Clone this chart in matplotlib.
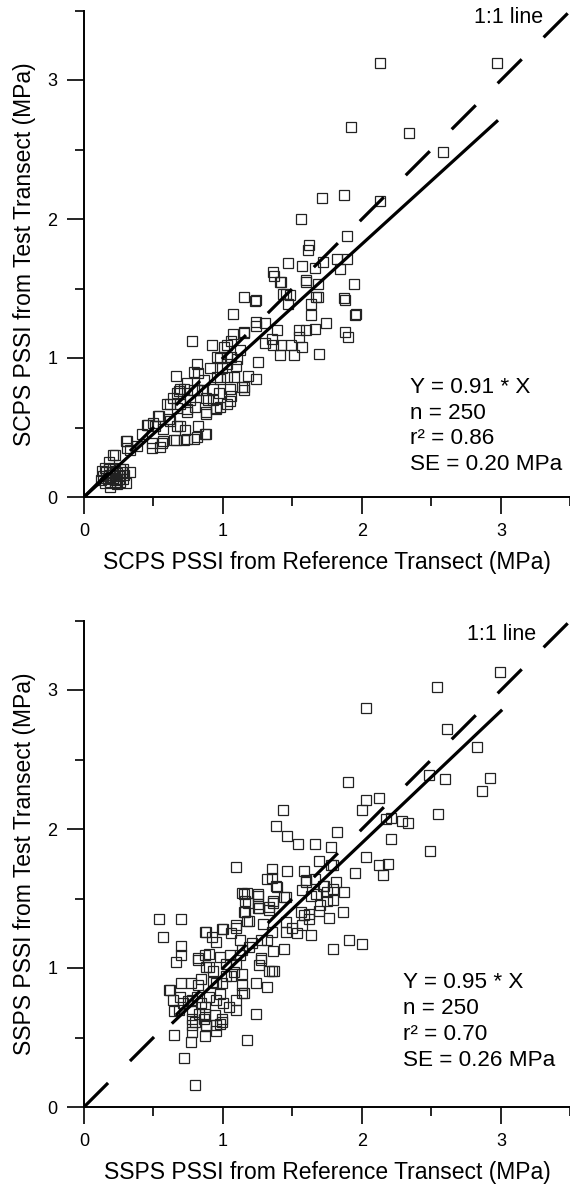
import matplotlib
matplotlib.use("Agg")
import matplotlib.pyplot as plt
import numpy as np

plt.rcParams['font.family'] = ['Liberation Sans', 'DejaVu Sans']
plt.rcParams['lines.scale_dashes'] = False

# ---- top panel: SCPS PSSI (reference vs test transect) ----
scps_pts = [
    (2.13, 3.12), (2.97, 3.12), (1.92, 2.66), (2.34, 2.62), (2.58, 2.48), (1.71, 2.15),
    (1.87, 2.17), (2.13, 2.13), (1.56, 2.00), (1.89, 1.88), (1.62, 1.81), (1.61, 1.78),
    (1.47, 1.68), (1.57, 1.66), (1.66, 1.65), (1.72, 1.69), (1.82, 1.71), (1.89, 1.71),
    (1.84, 1.64), (1.36, 1.62), (1.37, 1.59), (1.42, 1.55), (1.60, 1.56), (1.68, 1.53),
    (1.94, 1.53), (1.43, 1.46), (1.48, 1.45), (1.67, 1.44), (1.87, 1.43), (1.15, 1.44),
    (1.24, 1.42), (1.88, 1.42), (1.96, 1.32), (1.95, 1.31), (1.88, 1.19), (1.90, 1.15),
    (1.69, 1.03), (1.74, 1.25), (1.66, 1.21), (1.60, 1.20), (1.55, 1.20), (1.55, 1.15),
    (1.57, 1.08), (1.51, 1.02), (1.41, 1.02), (1.42, 1.09), (1.49, 1.09), (1.36, 1.09),
    (1.30, 1.11), (1.35, 1.14), (1.39, 1.20), (1.30, 1.25), (1.24, 1.26), (1.24, 1.23),
    (1.15, 1.18), (1.07, 1.17), (1.06, 1.12), (1.03, 1.09), (0.78, 1.12), (1.07, 1.32),
    (1.23, 1.41), (1.45, 1.46), (1.47, 1.39), (1.63, 1.39), (1.68, 1.44), (1.63, 1.31),
    (1.60, 1.55), (1.41, 1.55), (1.06, 1.01), (0.98, 1.00), (1.03, 0.96), (1.10, 0.99),
    (1.25, 0.97), (1.18, 0.87), (1.24, 0.85), (1.15, 0.79), (1.05, 0.78), (1.05, 0.69),
    (0.98, 0.65), (0.95, 0.64), (0.88, 0.61), (0.93, 0.70), (0.88, 0.71), (0.81, 0.96),
    (0.82, 0.89), (0.91, 0.93), (0.99, 0.93), (0.98, 0.85), (0.66, 0.87), (0.69, 0.78),
    (0.74, 0.82), (0.79, 0.77), (0.85, 0.77), (0.62, 0.67), (0.69, 0.67), (0.76, 0.70),
    (0.67, 0.64), (0.74, 0.61), (0.80, 0.65), (0.54, 0.58), (0.61, 0.56), (0.45, 0.52),
    (0.51, 0.51), (0.57, 0.49), (0.67, 0.51), (0.73, 0.48), (0.82, 0.51), (0.88, 0.45),
    (0.81, 0.43), (0.74, 0.42), (0.66, 0.41), (0.57, 0.40), (0.49, 0.39), (0.55, 0.36),
    (0.42, 0.45), (0.31, 0.40), (0.33, 0.34), (0.38, 0.37), (0.21, 0.30), (0.18, 0.25),
    (0.92, 1.09), (1.15, 1.19), (1.01, 1.08), (1.03, 1.01), (0.96, 1.01), (1.12, 1.06),
    (1.09, 0.94), (0.79, 0.90), (0.86, 0.84), (0.96, 0.86), (1.03, 0.86), (1.14, 0.79),
    (0.93, 0.78), (0.81, 0.77), (0.72, 0.78), (0.67, 0.75), (1.08, 0.86), (0.33, 0.18),
    (0.22, 0.30), (0.30, 0.40), (0.31, 0.35), (0.46, 0.52), (0.50, 0.53), (0.53, 0.58),
    (0.60, 0.67), (0.64, 0.71), (0.68, 0.76), (0.49, 0.35), (0.56, 0.39), (0.65, 0.41),
    (0.72, 0.41), (0.79, 0.42), (0.87, 0.45), (0.69, 0.51), (0.62, 0.55), (0.74, 0.63),
    (0.88, 0.60), (0.95, 0.63), (1.03, 0.67), (0.89, 0.70), (0.97, 0.75), (1.06, 0.73),
    (1.15, 0.77), (0.12, 0.12), (0.14, 0.15), (0.15, 0.10), (0.16, 0.18), (0.17, 0.13),
    (0.18, 0.20), (0.19, 0.11), (0.20, 0.16), (0.21, 0.14), (0.22, 0.19), (0.23, 0.12),
    (0.24, 0.17), (0.25, 0.15), (0.26, 0.11), (0.27, 0.18), (0.28, 0.13), (0.29, 0.16),
    (0.30, 0.10), (0.13, 0.19), (0.15, 0.21), (0.18, 0.16), (0.21, 0.21), (0.24, 0.09),
    (0.26, 0.20), (0.19, 0.07), (0.22, 0.10), (0.16, 0.14), (0.28, 0.20), (0.20, 0.18),
    (0.25, 0.13),
]

# ---- bottom panel: SSPS PSSI ----
ssps_pts = [
    (2.99, 3.13), (2.54, 3.02), (2.03, 2.87), (2.61, 2.72), (2.83, 2.59), (1.90, 2.34),
    (2.48, 2.39), (2.60, 2.36), (2.92, 2.37), (2.86, 2.27), (2.03, 2.21), (2.12, 2.22),
    (2.00, 2.14), (1.43, 2.14), (2.55, 2.11), (2.17, 2.07), (2.21, 2.08), (2.29, 2.06),
    (2.33, 2.04), (1.38, 2.02), (1.46, 1.95), (1.82, 1.98), (2.21, 1.93), (1.54, 1.89),
    (1.66, 1.89), (1.78, 1.87), (2.49, 1.84), (2.03, 1.80), (2.19, 1.75), (2.12, 1.74),
    (2.15, 1.67), (1.95, 1.68), (1.69, 1.77), (1.79, 1.74), (1.09, 1.73), (1.35, 1.71),
    (1.46, 1.70), (1.58, 1.70), (1.66, 1.64), (1.32, 1.64), (1.35, 1.65), (1.60, 1.62),
    (1.81, 1.62), (1.73, 1.59), (1.39, 1.58), (1.57, 1.56), (1.75, 1.55), (1.87, 1.55),
    (1.67, 1.53), (1.14, 1.54), (1.17, 1.54), (1.25, 1.52), (1.44, 1.51), (1.79, 1.49),
    (1.18, 1.47), (1.36, 1.47), (1.25, 1.43), (1.33, 1.44), (1.56, 1.40), (1.69, 1.41),
    (1.62, 1.35), (1.76, 1.36), (1.86, 1.40), (0.54, 1.35), (0.70, 1.35), (1.16, 1.40),
    (1.09, 1.31), (1.17, 1.34), (1.29, 1.32), (1.45, 1.33), (1.50, 1.29), (1.57, 1.31),
    (1.45, 1.26), (1.53, 1.25), (1.63, 1.24), (1.35, 1.26), (1.00, 1.28), (0.87, 1.26),
    (0.57, 1.22), (0.70, 1.16), (1.79, 1.14), (1.91, 1.20), (2.00, 1.17), (0.70, 1.09),
    (0.66, 1.04), (0.82, 1.07), (0.92, 1.22), (0.95, 1.19), (1.12, 1.20), (1.21, 1.18),
    (1.27, 1.20), (1.32, 1.20), (1.44, 1.14), (1.36, 1.12), (1.27, 1.07), (1.26, 1.02),
    (1.33, 0.98), (1.35, 0.98), (1.37, 0.98), (1.14, 1.13), (1.05, 1.09), (0.98, 1.08),
    (0.90, 1.10), (0.88, 1.01), (0.93, 0.98), (1.02, 1.03), (1.09, 1.03), (1.14, 0.96),
    (1.06, 0.94), (0.99, 0.89), (0.93, 0.90), (0.84, 0.92), (0.70, 0.89), (0.77, 0.89),
    (0.82, 0.88), (1.24, 0.89), (1.32, 0.86), (1.14, 0.88), (1.14, 0.82), (1.09, 0.77),
    (1.09, 0.70), (1.24, 0.67), (0.98, 0.81), (0.90, 0.79), (0.84, 0.75), (0.78, 0.77),
    (0.69, 0.79), (0.62, 0.84), (0.64, 0.77), (0.65, 0.69), (0.78, 0.69), (0.87, 0.67),
    (1.00, 0.75), (0.99, 0.61), (0.80, 0.61), (0.88, 0.59), (0.82, 1.06), (0.87, 1.09),
    (0.90, 1.01), (0.61, 0.84), (0.68, 0.70), (0.65, 0.52), (0.77, 0.47), (0.78, 0.54),
    (0.78, 0.59), (0.95, 0.59), (0.99, 0.63), (1.17, 0.48), (1.15, 0.82), (1.27, 1.06),
    (1.19, 1.15), (1.12, 1.09), (1.08, 0.97), (1.02, 0.94), (0.95, 0.89), (0.81, 0.79),
    (0.83, 0.67), (0.87, 0.72), (1.04, 0.72), (0.95, 0.77), (0.75, 0.76), (0.71, 0.75),
    (0.78, 0.63), (0.86, 0.63), (0.95, 0.55), (0.87, 0.51), (0.72, 0.35), (0.80, 0.16),
    (0.98, 0.60), (0.88, 0.58), (0.94, 0.66), (1.78, 1.74), (1.60, 1.63), (1.72, 1.59),
    (1.79, 1.57), (1.63, 1.52), (1.70, 1.45), (1.75, 1.48), (1.62, 1.39), (1.58, 1.38),
    (0.88, 1.26), (0.99, 1.28), (1.09, 1.29), (1.19, 1.34), (1.06, 1.25), (1.38, 1.59),
    (1.15, 1.53), (1.25, 1.53), (1.16, 1.48), (1.25, 1.46), (1.36, 1.48), (1.45, 1.51),
    (1.15, 1.40), (1.26, 1.43), (1.33, 1.42),
]

panels = [
    dict(pts=scps_pts, slope=0.91, fit_x=[0.0, 2.97], what="SCPS",
         stats=["Y = 0.91 * X", "n = 250", "r² = 0.86", "SE = 0.20 MPa"],
         txt_x=2.345, txt_y=0.750, lbl_x=3.30, lbl_y=3.45, base=497),
    dict(pts=ssps_pts, slope=0.95, fit_x=[0.64, 3.0], what="SSPS",
         stats=["Y = 0.95 * X", "n = 250", "r² = 0.70", "SE = 0.26 MPa"],
         txt_x=2.295, txt_y=0.856, lbl_x=3.25, lbl_y=3.40, base=1107),
]

W, H = 570, 1184
fig = plt.figure(figsize=(W / 100, H / 100), dpi=100)

unit = 139.0  # pixels per MPa

for p in panels:
    ax = fig.add_axes([84 / W, (H - p["base"]) / H, 3.5 * unit / W, 3.5 * unit / H])
    x, y = np.array(p["pts"]).T
    ax.plot(x, y, ls="none", marker="s", ms=6.6, mfc="none", mec="#222222", mew=0.9,
            zorder=2)
    one = np.array([0, 3.5])
    ax.plot(one, one, color="black", lw=2.3, dashes=(24.5, 22.3), zorder=3,
            dash_capstyle="butt")
    fx = np.array(p["fit_x"])
    ax.plot(fx, p["slope"] * fx, color="black", lw=2.3, zorder=3)

    ax.set_xlim(0, 3.5)
    ax.set_ylim(0, 3.5)
    for s in ["top", "right"]:
        ax.spines[s].set_visible(False)
    for s in ["left", "bottom"]:
        ax.spines[s].set_linewidth(1.4)
    ax.set_xticks([0, 1, 2, 3])
    ax.set_yticks([0, 1, 2, 3])
    ax.set_xticks([0.5, 1.5, 2.5, 3.5], minor=True)
    ax.set_yticks([0.5, 1.5, 2.5, 3.5], minor=True)
    ax.tick_params(which="major", direction="out", length=12, width=1.2,
                   labelsize=13, pad=7)
    ax.tick_params(which="minor", direction="out", length=6.5, width=1.2)

    ax.set_xlabel(p["what"] + " PSSI from Reference Transect (MPa)", fontsize=16.5,
                  labelpad=8)
    ax.set_ylabel(p["what"] + " PSSI from Test Transect (MPa)", fontsize=16.5,
                  labelpad=8)

    for i, s in enumerate(p["stats"]):
        ax.text(p["txt_x"], p["txt_y"] - i * 0.186, s, fontsize=16.2, va="baseline",
                ha="left")
    ax.text(p["lbl_x"], p["lbl_y"], "1:1 line", fontsize=15.5, ha="right", va="center")

fig.savefig("out.png", dpi=100)
